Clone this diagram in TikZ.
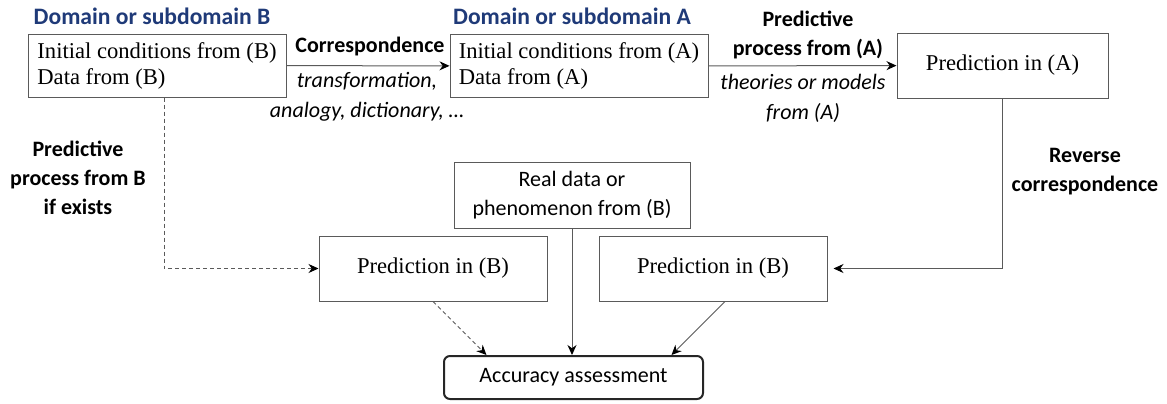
\documentclass[tikz,border=0pt]{standalone}
\usepackage{fontspec}
\setmainfont{Liberation Serif}
\setsansfont{Carlito}
\usetikzlibrary{calc, arrows.meta}
\definecolor{titleblue}{HTML}{1F3A78}
\definecolor{edgegray}{HTML}{5A5A5A}

\begin{document}
\begin{tikzpicture}[x=0.5pt, y=-0.5pt,
	box/.style = {draw=edgegray, line width=0.5pt, inner xsep=6pt, inner ysep=0pt,
		font=\fontsize{11.3}{13}\selectfont},
	condbox/.style = {box, align=left, inner xsep=3pt, minimum width=129pt, minimum height=31.5pt},
	predbox/.style = {box, minimum width=114pt, minimum height=32.5pt},
	title/.style = {font=\sffamily\bfseries\fontsize{11.8}{14}\selectfont, text=titleblue},
	lbl/.style = {font=\sffamily\bfseries\fontsize{11}{14.5}\selectfont, align=center, inner sep=0pt},
	note/.style = {font=\sffamily\itshape\fontsize{11}{15}\selectfont, align=center, inner sep=0pt},
	arr/.style = {-{Stealth[length=5pt, width=4.5pt, color=black]}, draw=edgegray, line width=0.5pt},
	dasharr/.style = {arr, dash pattern=on 2pt off 1.5pt}]
	
	%frame
	\useasboundingbox (0,0) rectangle (1167,403);
	
	%domains
	\node [title] (titleB) at (152,16) {Domain or subdomain B};
	\node [title] (titleA) at (572,16) {Domain or subdomain A};
	\node [condbox] (boxB) at (157,65.5) {Initial conditions from (B)\\Data from (B)};
	\node [condbox] (boxA) at (579,66) {Initial conditions from (A)\\Data from (A)};
	\node [predbox, minimum width=105.5pt] (predA) at (1002.5,65.5) {Prediction in (A)};
	
	%lower boxes
	\node [box, font=\sffamily\fontsize{11}{14.5}\selectfont, align=center,
		minimum width=118pt, minimum height=33pt] (real) at (572,195) {Real data or\\phenomenon from (B)};
	\node [predbox] (predB1) at (433,268.5) {Prediction in (B)};
	\node [predbox] (predB2) at (713,268.5) {Prediction in (B)};
	\node [draw=black!85, line width=1pt, rounded corners=3pt, minimum width=129.5pt,
		minimum height=21.5pt, font=\sffamily\fontsize{11}{13}\selectfont] (acc) at (573.5,377.5) {Accuracy assessment};
	
	%correspondence
	\draw [arr] (boxB) -- (boxA);
	\node [lbl] (corr) at (370,47) {Correspondence};
	\node [note] (corrnote) at (367,96.5) {transformation,\\analogy, dictionary, \ldots};
	
	%predictive process A
	\draw [arr] (boxA) -- (predA);
	\node [lbl] (procA) at (808,34.5) {Predictive\\process from (A)};
	\node [note] (procAnote) at (803,98) {theories or models\\from (A)};
	
	%reverse correspondence
	\coordinate (revend) at ($(predB2.east)+(6,0)$);
	\draw [arr] (predA.south) |- (revend);
	\node [lbl] (rev) at (1085,172) {Reverse\\correspondence};
	
	%predictive process B
	\coordinate (dashstart) at ($(boxB.south)+(7,0)$);
	\draw [dasharr] (dashstart) |- (predB1.west);
	\node [lbl] (procB) at (78,178) {Predictive\\process from B\\if exists};
	
	%assessment
	\draw [dasharr] (predB1.south) -- ($(acc.north)+(-87,0)$);
	\draw [arr] (real.south) -- (real.south |- acc.north);
	\draw [arr] ($(predB2.south)+(12,0)$) -- ($(acc.north)+(98,0)$);
\end{tikzpicture}
\end{document}
